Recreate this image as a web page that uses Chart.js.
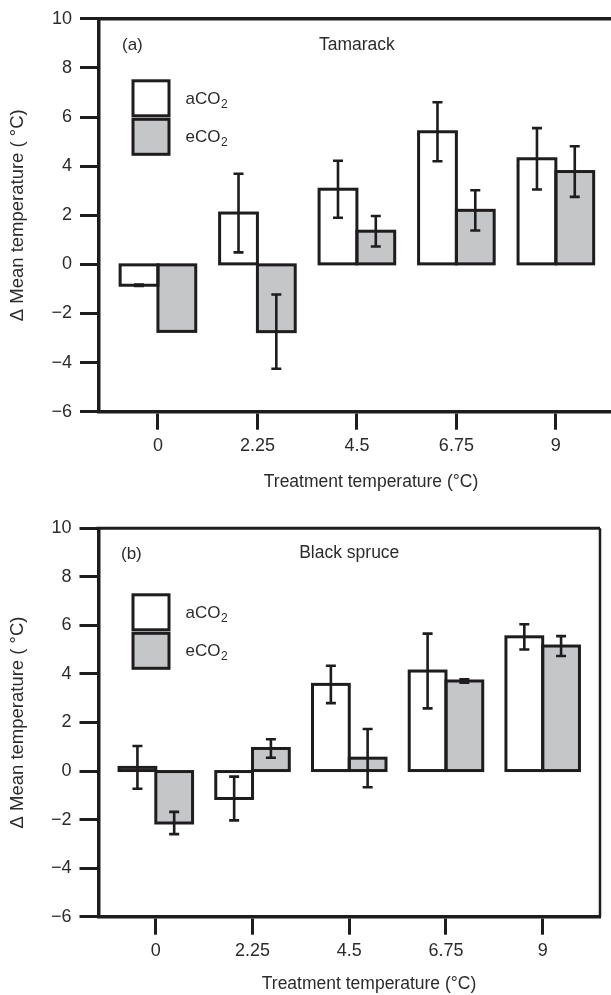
<!DOCTYPE html>
<html>
<head>
<meta charset="utf-8">
<script src="https://cdn.jsdelivr.net/npm/chart.js@4.4.1/dist/chart.umd.min.js"></script>
<style>
  html, body { margin: 0; padding: 0; background: #fff; overflow: hidden; width: 611px; height: 995px; }
  #c1 { position: absolute; left: 0; top: 0; }
  #c2 { position: absolute; left: 0; top: 495px; }
</style>
</head>
<body>
<canvas id="c1" width="640" height="495"></canvas>
<canvas id="c2" width="611" height="500"></canvas>
<script>
// ---- data ----
const categories = [0, 2.25, 4.5, 6.75, 9];
const xTickLabels = ['0', '2.25', '4.5', '6.75', '9'];
const yTickValues = [-6, -4, -2, 0, 2, 4, 6, 8, 10];
const seriesNames = ['aCO2', 'eCO2'];

const tamarackA    = [-0.85, 2.09, 3.06, 5.40, 4.30];
const tamarackAErr = [0.03, 1.60, 1.16, 1.20, 1.25];
const tamarackE    = [-2.73, -2.74, 1.35, 2.20, 3.78];
const tamarackEErr = [null, 1.51, 0.62, 0.82, 1.03];

const spruceA    = [0.15, -1.13, 3.57, 4.12, 5.53];
const spruceAErr = [0.88, 0.90, 0.77, 1.54, 0.52];
const spruceE    = [-2.14, 0.93, 0.53, 3.71, 5.15];
const spruceEErr = [0.46, 0.38, 1.20, 0.07, 0.41];

// ---- style ----
const INK = '#1e1c1d';
const TXT = '#2b2b2b';
const GREY = '#c5c6c8';
const FONT = "'Liberation Sans', Arial, Helvetica, sans-serif";

const decor = {
  id: 'decor',
  afterDatasetsDraw(chart, args, o) {
    const ctx = chart.ctx;
    const ys = chart.scales.y;
    ctx.save();
    // bar outlines centred on the bar edges
    ctx.strokeStyle = INK;
    ctx.lineWidth = 3;
    ctx.lineJoin = 'miter';
    chart.data.datasets.forEach((ds, di) => {
      chart.getDatasetMeta(di).data.forEach(el => {
        const p = el.getProps(['x', 'y', 'base', 'width'], true);
        const l = p.x - p.width / 2;
        const t = Math.min(p.y, p.base);
        const h = Math.abs(p.base - p.y);
        ctx.strokeRect(l, t, p.width, h);
      });
    });
    // error bars
    ctx.lineWidth = 2.6;
    chart.data.datasets.forEach((ds, di) => {
      const meta = chart.getDatasetMeta(di);
      meta.data.forEach((el, i) => {
        const e = ds.errors[i];
        if (e === null || e === undefined) return;
        const v = ds.data[i].y;
        const yTop = ys.getPixelForValue(v + e);
        const yBot = ys.getPixelForValue(v - e);
        const x = el.x;
        ctx.beginPath();
        ctx.moveTo(x, yTop); ctx.lineTo(x, yBot);
        ctx.moveTo(x - 5, yTop); ctx.lineTo(x + 5, yTop);
        ctx.moveTo(x - 5, yBot); ctx.lineTo(x + 5, yBot);
        ctx.stroke();
      });
    });
    ctx.restore();
  },
  afterDraw(chart, args, o) {
    const ctx = chart.ctx;
    const a = chart.chartArea;
    ctx.save();
    // top and right frame
    ctx.strokeStyle = INK;
    ctx.lineWidth = o.frameTop;
    ctx.beginPath();
    ctx.moveTo(a.left - 2, a.top); ctx.lineTo(a.right, a.top);
    ctx.stroke();
    ctx.lineWidth = o.frameRight;
    ctx.beginPath();
    ctx.moveTo(a.right, a.top); ctx.lineTo(a.right, a.bottom);
    ctx.stroke();

    ctx.fillStyle = TXT;
    ctx.font = '17px ' + FONT;
    ctx.textBaseline = 'middle';
    // panel letter
    ctx.textAlign = 'left';
    ctx.fillText(o.letter, a.left + o.letterDx, a.top + o.letterDy);
    // species title centred on plot
    ctx.textAlign = 'center';
    ctx.font = '17.5px ' + FONT;
    ctx.fillText(o.title, (a.left + a.right) / 2, a.top + o.letterDy - 1);

    // legend
    const bx = a.left + o.legDx, by = a.top + o.legDy, bw = 36, bh = 35;
    chart.data.datasets.forEach((ds, di) => {
      const y0 = by + di * (bh + 3.5);
      ctx.fillStyle = ds.backgroundColor;
      ctx.fillRect(bx, y0, bw, bh);
      ctx.strokeStyle = INK;
      ctx.lineWidth = 3;
      ctx.strokeRect(bx, y0, bw, bh);
      const name = seriesNames[di];
      const main = name.slice(0, -1), sub = name.slice(-1);
      ctx.fillStyle = TXT;
      ctx.textAlign = 'left';
      ctx.font = '17px ' + FONT;
      const tx = bx + bw + 16.5, ty = y0 + bh / 2 + 1;
      ctx.fillText(main, tx, ty);
      const w = ctx.measureText(main).width;
      ctx.font = '12px ' + FONT;
      ctx.fillText(sub, tx + w + 0.5, ty + 5);
    });

    // axis titles
    ctx.fillStyle = TXT;
    ctx.font = '17.5px ' + FONT;
    ctx.textAlign = 'center';
    ctx.fillText('Treatment temperature (°C)', o.xTitleX, a.bottom + o.xTitleDy);
    ctx.translate(18, (a.top + a.bottom) / 2);
    ctx.rotate(-Math.PI / 2);
    ctx.font = '18.5px ' + FONT;
    ctx.fillText('\u0394 Mean temperature ( °C)', 0, 0);
    ctx.restore();
  }
};

function makeChart(id, aVals, aErr, eVals, eErr, cfg) {
  const toPts = vals => categories.map((x, i) => ({ x: x, y: vals[i] }));
  return new Chart(document.getElementById(id), {
    type: 'bar',
    data: {
      datasets: [
        { label: seriesNames[0], data: toPts(aVals), errors: aErr,
          backgroundColor: '#ffffff', borderWidth: 0 },
        { label: seriesNames[1], data: toPts(eVals), errors: eErr,
          backgroundColor: GREY, borderWidth: 0 }
      ]
    },
    options: {
      responsive: false,
      animation: false,
      devicePixelRatio: 1,
      categoryPercentage: 0.76,
      barPercentage: 1,
      layout: { padding: { left: 0, top: cfg.top, right: cfg.right, bottom: 0 } },
      plugins: {
        legend: { display: false },
        tooltip: { enabled: false },
        decor: cfg.decor
      },
      scales: {
        x: {
          type: 'linear',
          min: -1.333, max: 10.333,
          offset: false,
          afterBuildTicks: s => { s.ticks = categories.map(v => ({ value: v })); },
          afterFit: s => { s.height = cfg.xHeight; },
          ticks: {
            callback: (v) => xTickLabels[categories.indexOf(v)],
            font: { family: FONT, size: 18 }, color: TXT, padding: 6, maxRotation: 0
          },
          grid: { offset: false, drawOnChartArea: false, drawTicks: true, tickLength: 18, tickWidth: 3, tickColor: INK },
          border: { display: true, color: INK, width: 3.5 }
        },
        y: {
          min: -6, max: 10,
          afterBuildTicks: s => { s.ticks = yTickValues.map(v => ({ value: v })); },
          afterFit: s => { s.width = cfg.yWidth; },
          ticks: {
            callback: v => (v < 0 ? '\u2212' + Math.abs(v) : String(v)),
            font: { family: FONT, size: 18 }, color: TXT, padding: 8
          },
          grid: { drawOnChartArea: false, drawTicks: true, tickLength: 19, tickWidth: 3, tickColor: INK },
          border: { display: true, color: INK, width: 3.5 }
        }
      }
    },
    plugins: [decor]
  });
}

makeChart('c1', tamarackA, tamarackAErr, tamarackE, tamarackEErr, {
  top: 17, right: 25.2, xHeight: 83.3, yWidth: 99,
  decor: { letter: '(a)', title: 'Tamarack', letterDx: 23, letterDy: 27, legDx: 34, legDy: 62,
           frameTop: 3.5, frameRight: 3, xTitleX: 371, xTitleDy: 70 }
});
makeChart('c2', spruceA, spruceAErr, spruceE, spruceEErr, {
  top: 33.3, right: 11, xHeight: 78.3, yWidth: 98.5,
  decor: { letter: '(b)', title: 'Black spruce', letterDx: 22.5, letterDy: 26, legDx: 34.5, legDy: 66.5,
           frameTop: 3, frameRight: 2.5, xTitleX: 369, xTitleDy: 67 }
});
</script>
</body>
</html>
